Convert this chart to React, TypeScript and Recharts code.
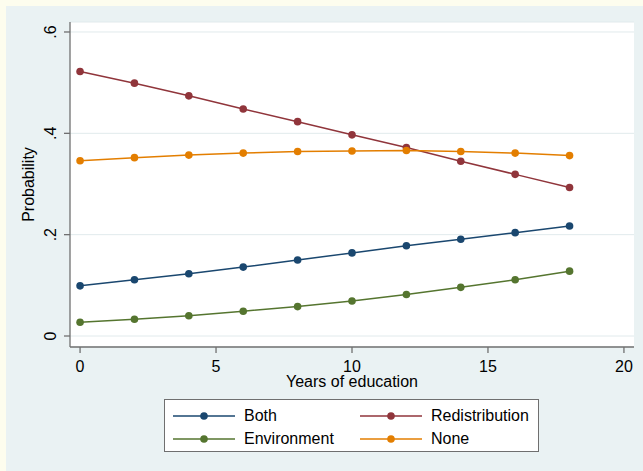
import { LineChart, Line, XAxis, YAxis, CartesianGrid } from 'recharts'

// values
const years = [0, 2, 4, 6, 8, 10, 12, 14, 16, 18]
const both = [0.099, 0.111, 0.123, 0.136, 0.150, 0.164, 0.178, 0.191, 0.204, 0.217]
const redistribution = [0.522, 0.499, 0.474, 0.448, 0.423, 0.397, 0.372, 0.345, 0.319, 0.293]
const environment = [0.027, 0.033, 0.040, 0.049, 0.058, 0.069, 0.082, 0.096, 0.111, 0.128]
const none = [0.346, 0.352, 0.357, 0.361, 0.364, 0.365, 0.366, 0.364, 0.361, 0.356]

const xTicks = [0, 5, 10, 15, 20]
const yTicks = [0, 0.2, 0.4, 0.6]
const yTickLabels = ['0', '.2', '.4', '.6']

const seriesNames = ['Both', 'Redistribution', 'Environment', 'None']
const seriesKeys = ['both', 'redistribution', 'environment', 'none']
const seriesColors = ['#1A476F', '#90353B', '#55752F', '#E37E00']

const data = years.map((yr, i) => ({
    year: yr,
    both: both[i],
    redistribution: redistribution[i],
    environment: environment[i],
    none: none[i],
}))

const FONT = '"Liberation Sans", Arial, sans-serif'
const FS = 16
const AXIS = '#707070'

const XTick = ({ x, y, payload }: any) => (
    <text x={x} y={y + 17} textAnchor="middle" fontSize={FS} fontFamily={FONT} fill="#000">
        {payload.value}
    </text>
)

const YTick = ({ x, y, payload }: any) => {
    const idx = yTicks.indexOf(payload.value)
    const bx = x - 5.5
    return (
        <text x={bx} y={y} transform={`rotate(-90, ${bx}, ${y})`} textAnchor="middle"
            fontSize={FS} fontFamily={FONT} fill="#000">
            {idx >= 0 ? yTickLabels[idx] : payload.value}
        </text>
    )
}

const YTitle = ({ viewBox }: any) => {
    const bx = 28 // baseline position
    const cy = viewBox.y + viewBox.height / 2
    return (
        <text x={bx} y={cy} transform={`rotate(-90, ${bx}, ${cy})`} textAnchor="middle"
            fontSize={FS} fontFamily={FONT} fill="#000">
            Probability
        </text>
    )
}

const XTitle = ({ viewBox }: any) => (
    <text x={viewBox.x + viewBox.width / 2} y={viewBox.y + 39.5} textAnchor="middle"
        fontSize={FS} fontFamily={FONT} fill="#000">
        Years of education
    </text>
)

// legend positions (2 columns, row-major like Stata)
const legendCols = [8, 195]
const legendRows = [16, 39]

function ChartLegend() {
    return (
        <div style={{
            position: 'absolute', left: 164, top: 399, width: 373, height: 51,
            background: '#fff', border: '1px solid #6f6f6f', fontFamily: FONT, fontSize: FS,
        }}>
            {seriesNames.map((name, i) => (
                <div key={name} style={{
                    position: 'absolute', left: legendCols[i % 2], top: legendRows[Math.floor(i / 2)] - 10,
                    height: 20, display: 'flex', alignItems: 'center', whiteSpace: 'nowrap',
                }}>
                    <svg width={62} height={10} style={{ display: 'block' }}>
                        <line x1={0} y1={5} x2={62} y2={5} stroke={seriesColors[i]} strokeWidth={1.5} />
                        <circle cx={31} cy={5} r={3.8} fill={seriesColors[i]} />
                    </svg>
                    <span style={{ marginLeft: 9, color: '#000' }}>{name}</span>
                </div>
            ))}
        </div>
    )
}

export default function App() {
    return (
        <div style={{ position: 'absolute', left: 0, top: 0, width: 643, height: 471, background: '#FDFDEE', overflow: 'hidden' }}>
            <div style={{ position: 'absolute', left: 6, top: 6, width: 637, height: 465, background: '#EAF2F3' }}>
                <LineChart width={637} height={465} data={data}
                    margin={{ top: 16, right: 9, bottom: 0, left: 0 }}>
                    <CartesianGrid vertical={false} stroke="#E1EAEC" fill="#ffffff" />
                    <XAxis dataKey="year" type="number" domain={[-0.37, 20.37]} ticks={xTicks}
                        allowDataOverflow height={124} tickSize={6} tickMargin={2}
                        axisLine={{ stroke: AXIS, strokeWidth: 1.3 }} tickLine={{ stroke: AXIS, strokeWidth: 1.3 }}
                        tick={<XTick />} label={XTitle} />
                    <YAxis type="number" domain={[-0.0217, 0.6197]} ticks={yTicks} allowDataOverflow
                        width={64} tickSize={6} tickMargin={2}
                        axisLine={{ stroke: AXIS, strokeWidth: 1.3 }} tickLine={{ stroke: AXIS, strokeWidth: 1.3 }}
                        tick={<YTick />} label={YTitle} />
                    {seriesKeys.map((k, i) => (
                        <Line key={k} dataKey={k} name={seriesNames[i]} stroke={seriesColors[i]}
                            strokeWidth={1.5} isAnimationActive={false}
                            dot={{ r: 3.8, fill: seriesColors[i], stroke: 'none' }} />
                    ))}
                </LineChart>
            </div>
            <ChartLegend />
        </div>
    )
}
